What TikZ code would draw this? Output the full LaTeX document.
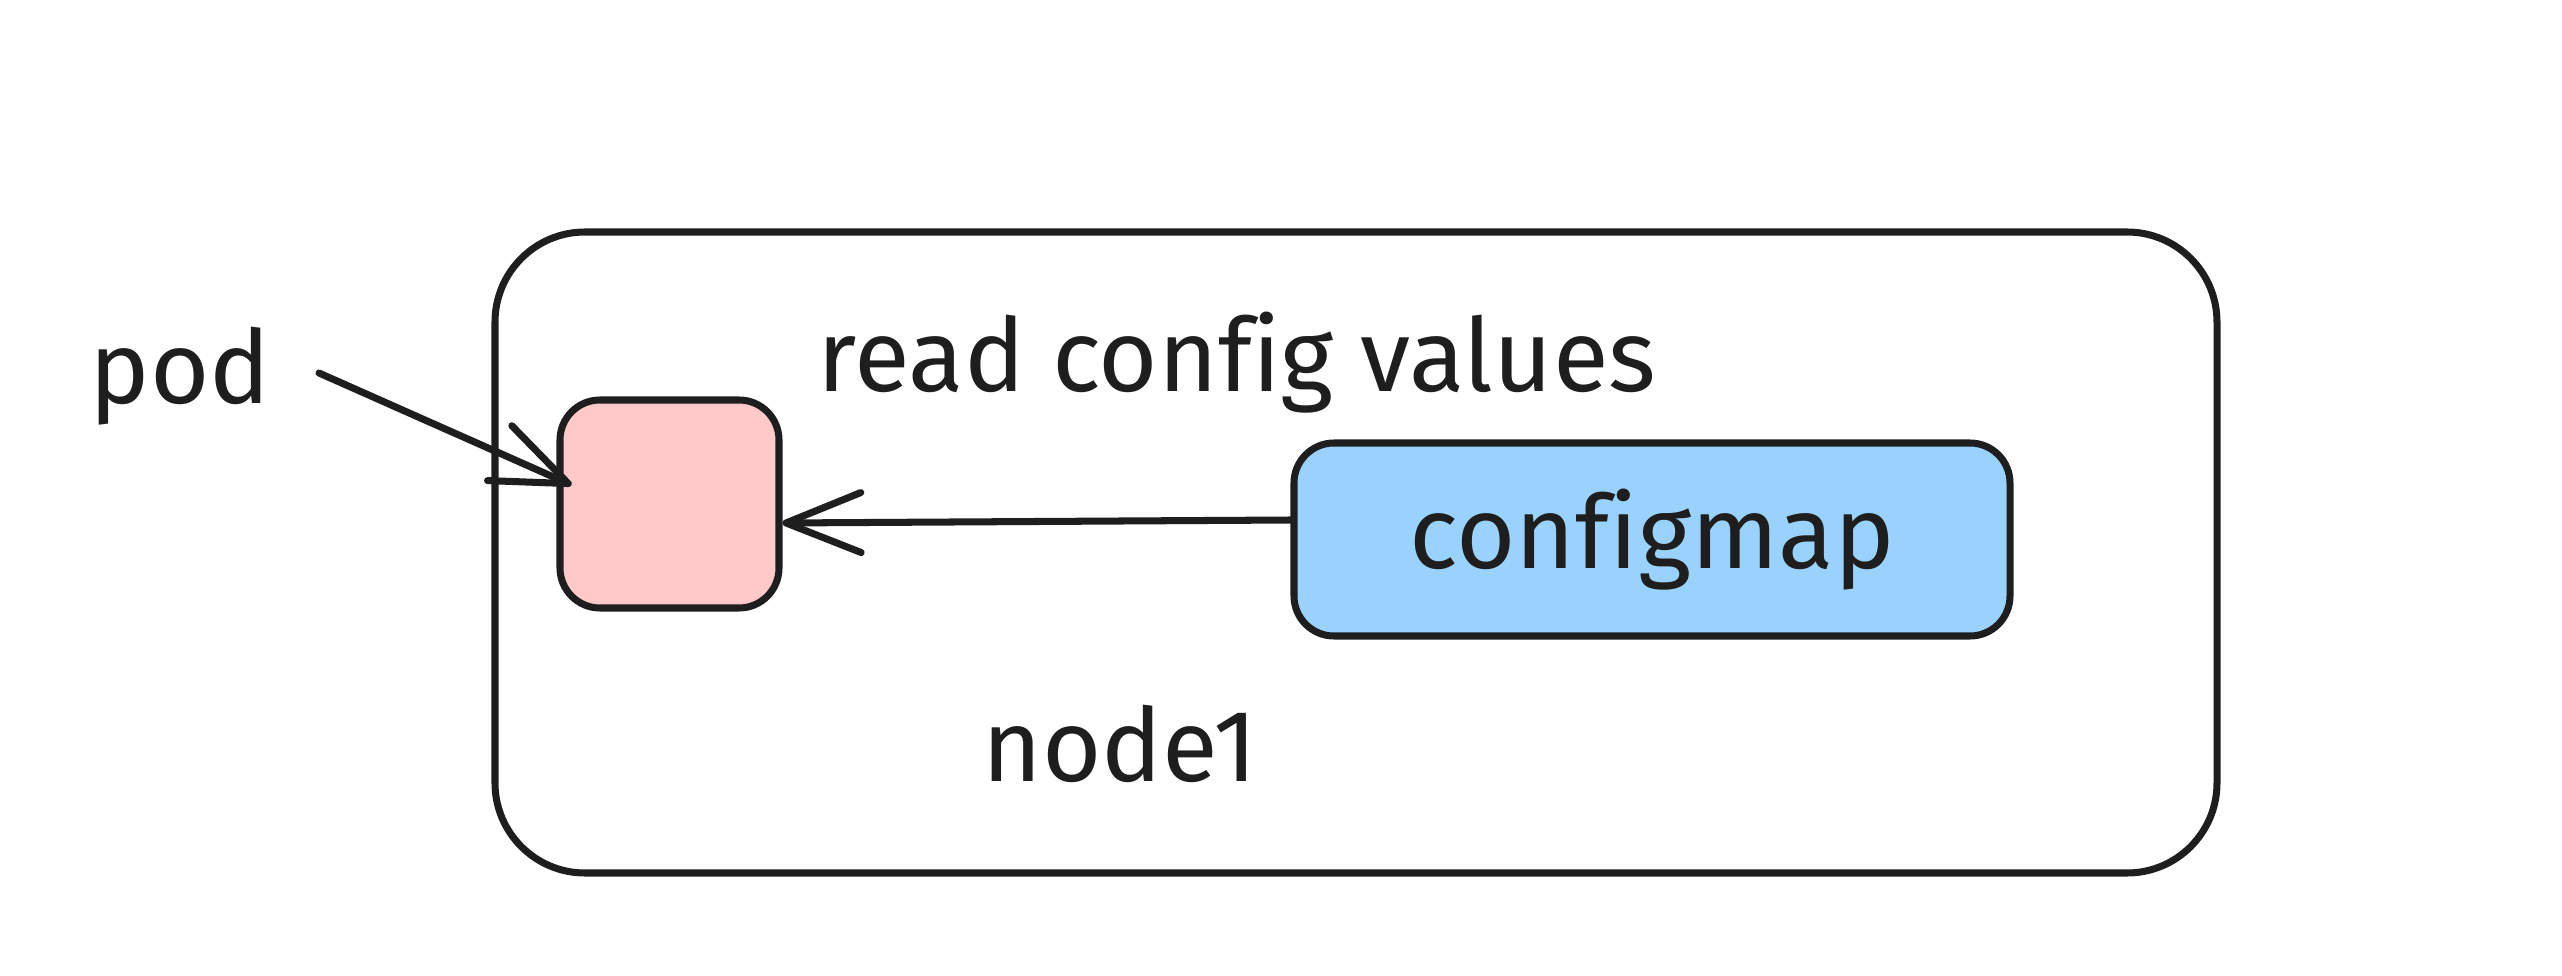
\documentclass[tikz,border=0pt]{standalone}
\usepackage{fontspec}
\setmainfont[Ligatures=NoCommon]{Fira Sans}
\usepackage{tikz}
\usetikzlibrary{arrows.meta,positioning}
\definecolor{ink}{HTML}{1E1E1E}
\definecolor{podfill}{HTML}{FFC9C9}
\definecolor{cmfill}{HTML}{99D3FD}

\begin{document}
\begin{tikzpicture}[
  box/.style={draw=ink,line width=2pt,rectangle,inner sep=0pt},
  lbl/.style={text=ink,inner sep=0pt,anchor=base,font=\fontsize{29}{34}\selectfont},
  arr/.style={-{Straight Barb[length=7.5mm,width=6mm,line width=2pt,round]},draw=ink,line width=2pt,line cap=round}
]
\useasboundingbox (0,0) rectangle (25.62,-9.76);
\node[box, rounded corners=9mm, minimum width=172.2mm, minimum height=64.1mm] (node1box) at (13.56,-5.525) {};
\node[box, fill=podfill, rounded corners=4mm, minimum width=21.9mm, minimum height=20.8mm] (pod) at (6.695,-5.04) {};
\node[box, fill=cmfill, rounded corners=4mm, minimum width=71.6mm, minimum height=19.3mm, font=\fontsize{29}{34}\selectfont, text=ink] (cm) at (16.52,-5.395) {configmap};
\node[lbl] (podlbl) at (1.80,-4.04) {pod};
\node[lbl] (readlbl) at (12.37,-3.92) {read config values};
\node[lbl] (nodelbl) at (11.20,-7.81) {node1};
\coordinate (podstart) at (3.19,-3.73);

\draw[arr] (podstart) -- ([xshift=1.5mm,yshift=1.9mm]pod.west);
\draw[arr] ([yshift=1.95mm]cm.west) -- ([yshift=-1.9mm]pod.east);
\end{tikzpicture}
\end{document}
